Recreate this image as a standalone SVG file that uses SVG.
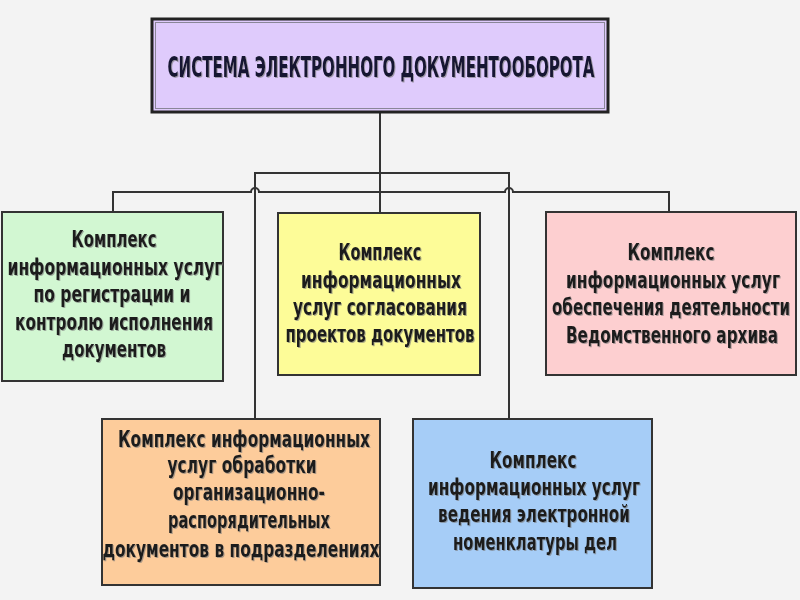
<svg xmlns="http://www.w3.org/2000/svg" width="800" height="600" viewBox="0 0 800 600">
<defs>
<style>
.box{stroke:#333;stroke-width:2}
.t{font-family:"DejaVu Sans Condensed","DejaVu Sans",sans-serif;font-weight:bold;font-size:22.5px;fill:#1e1e1e;text-anchor:middle}
.title{font-family:"DejaVu Sans Condensed","DejaVu Sans",sans-serif;font-weight:bold;font-size:29px;fill:#151530;text-anchor:middle}
.ln{fill:none;stroke:#333;stroke-width:2}
</style>
<filter id="sh" filterUnits="userSpaceOnUse" x="0" y="0" width="800" height="600">
<feDropShadow dx="1" dy="1" stdDeviation="0.6" flood-color="#777" flood-opacity="0.6"/>
</filter>
</defs>
<rect width="800" height="600" fill="#f3f3f3"/>
<g id="connectors">
<path class="ln" d="M380,112 V212"/>
<path class="ln" d="M113,212 V192 H251 a4,4 0 0 1 8,0 H505 a4,4 0 0 1 8,0 H669 V212"/>
<path class="ln" d="M255,419 V173 H509 V419"/>
</g>
<g id="root">
<rect x="152" y="19" width="456" height="93" fill="#dfcbfc" stroke="#222" stroke-width="3"/>
<rect x="155.5" y="22.5" width="449" height="86" fill="none" stroke="#8a8698" stroke-width="1"/>
<text class="title" x="381" y="77" textLength="427" lengthAdjust="spacingAndGlyphs" filter="url(#sh)">СИСТЕМА ЭЛЕКТРОННОГО ДОКУМЕНТООБОРОТА</text>
</g>
<g id="node-green">
<rect class="box" x="2" y="212" width="221" height="169" fill="#d2f7d2"/>
<g class="t" filter="url(#sh)">
<text x="114" y="247" textLength="85" lengthAdjust="spacingAndGlyphs">Комплекс</text>
<text x="115" y="275" textLength="215" lengthAdjust="spacingAndGlyphs">информационных услуг</text>
<text x="112" y="302" textLength="157" lengthAdjust="spacingAndGlyphs">по регистрации  и</text>
<text x="114" y="330" textLength="198" lengthAdjust="spacingAndGlyphs">контролю исполнения</text>
<text x="114" y="357" textLength="104" lengthAdjust="spacingAndGlyphs">документов</text>
</g>
</g>
<g id="node-yellow">
<rect class="box" x="278" y="213" width="202" height="162" fill="#fdfc98"/>
<g class="t" filter="url(#sh)">
<text x="380" y="260" textLength="83" lengthAdjust="spacingAndGlyphs">Комплекс</text>
<text x="381" y="288" textLength="160" lengthAdjust="spacingAndGlyphs">информационных</text>
<text x="380" y="315" textLength="174" lengthAdjust="spacingAndGlyphs">услуг согласования</text>
<text x="380" y="342" textLength="189" lengthAdjust="spacingAndGlyphs">проектов документов</text>
</g>
</g>
<g id="node-pink">
<rect class="box" x="546" y="212" width="250" height="163" fill="#fdcfd0"/>
<g class="t" filter="url(#sh)">
<text x="671" y="260" textLength="87" lengthAdjust="spacingAndGlyphs">Комплекс</text>
<text x="673" y="288" textLength="214" lengthAdjust="spacingAndGlyphs">информационных услуг</text>
<text x="671" y="315" textLength="238" lengthAdjust="spacingAndGlyphs">обеспечения деятельности</text>
<text x="672" y="343" textLength="212" lengthAdjust="spacingAndGlyphs">Ведомственного  архива</text>
</g>
</g>
<g id="node-orange">
<rect class="box" x="102" y="419" width="278" height="166" fill="#fdcc9b"/>
<g class="t" filter="url(#sh)">
<text x="244" y="447" textLength="252" lengthAdjust="spacingAndGlyphs">Комплекс информационных</text>
<text x="242" y="473" textLength="149" lengthAdjust="spacingAndGlyphs">услуг обработки</text>
<text x="249" y="500" textLength="152" lengthAdjust="spacingAndGlyphs">организационно-</text>
<text x="249" y="528" textLength="162" lengthAdjust="spacingAndGlyphs">распорядительных</text>
<text x="241" y="557" textLength="277" lengthAdjust="spacingAndGlyphs">документов в подразделениях</text>
</g>
</g>
<g id="node-blue">
<rect class="box" x="413" y="419" width="239" height="169" fill="#a6cdf7"/>
<g class="t" filter="url(#sh)">
<text x="533" y="468" textLength="87" lengthAdjust="spacingAndGlyphs">Комплекс</text>
<text x="534" y="495" textLength="212" lengthAdjust="spacingAndGlyphs">информационных услуг</text>
<text x="534" y="522" textLength="192" lengthAdjust="spacingAndGlyphs">ведения электронной</text>
<text x="535" y="550" textLength="164" lengthAdjust="spacingAndGlyphs">номенклатуры дел</text>
</g>
</g>
</svg>
